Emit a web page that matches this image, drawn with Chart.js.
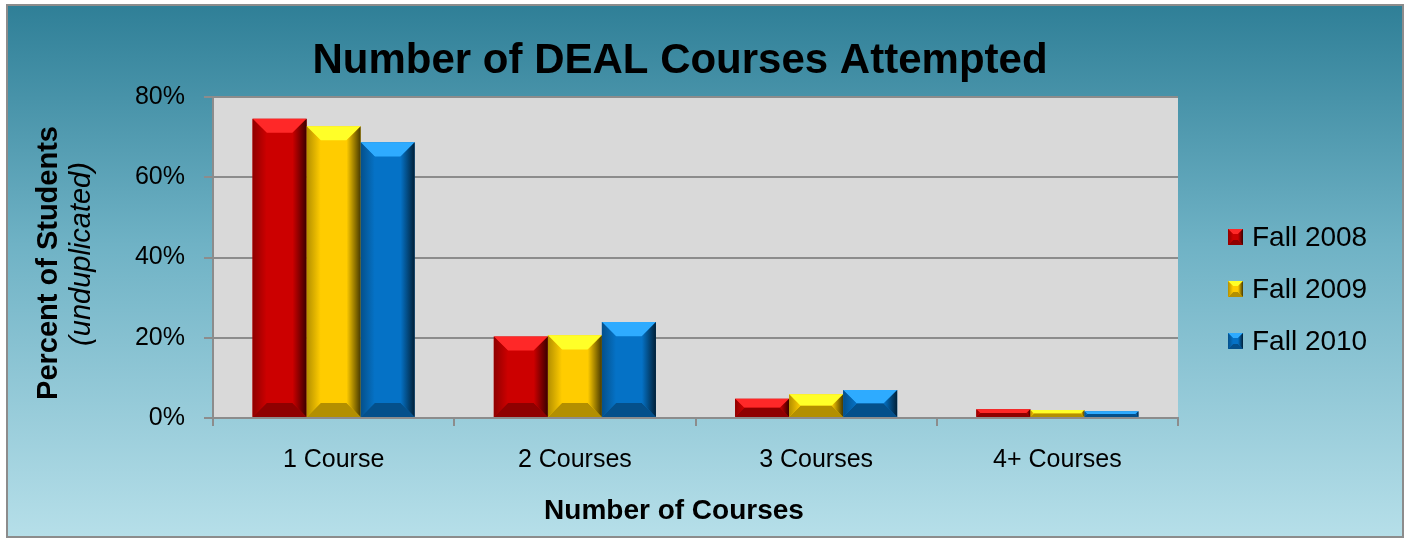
<!DOCTYPE html>
<html>
<head>
<meta charset="utf-8">
<script src="https://cdn.jsdelivr.net/npm/chart.js@4/dist/chart.umd.min.js"></script>
<style>
    html, body { margin: 0; padding: 0; background: #fff; }
    #wrap { width: 1409px; height: 538px; }
</style>
</head>
<body>
<div id="wrap"><canvas id="coursesChart" width="1409" height="538"></canvas></div>
<script>
const categories = ['1 Course', '2 Courses', '3 Courses', '4+ Courses'];
const seriesNames = ['Fall 2008', 'Fall 2009', 'Fall 2010'];
const fall2008 = [74.6, 20.3, 4.8, 2.2];
const fall2009 = [72.7, 20.6, 5.9, 2.0];
const fall2010 = [68.7, 23.9, 7.0, 1.7];
const seriesColors = ['#cc0000', '#ffcc00', '#0572c6'];
const yTicks = [0, 20, 40, 60, 80];

const FONT = "'Liberation Sans', Arial, sans-serif";

// mix a hex colour toward white (amt > 0) or black (amt < 0)
function shade(hex, amt) {
    const n = parseInt(hex.slice(1), 16);
    const ch = [n >> 16, (n >> 8) & 255, n & 255];
    const target = amt < 0 ? 0 : 255;
    const p = Math.abs(amt);
    const out = ch.map(c => Math.round(c + (target - c) * p));
    return `rgb(${out[0]},${out[1]},${out[2]})`;
}

function brighten(hex) {
    const n = parseInt(hex.slice(1), 16);
    const ch = [n >> 16, (n >> 8) & 255, n & 255].map(c => Math.min(255, Math.round(c * 1.15 + 40)));
    return `rgb(${ch[0]},${ch[1]},${ch[2]})`;
}

// draws the Excel-style bevel on top of a plain rectangle
function drawBevel(ctx, l, t, r, b, color, size) {
    const h = b - t;
    const w = r - l;
    if (h <= 0 || w <= 0) return;
    const s = Math.min(size, h / 2, w / 2);

    ctx.save();
    // top face
    ctx.fillStyle = brighten(color);
    ctx.beginPath();
    ctx.moveTo(l, t); ctx.lineTo(r, t); ctx.lineTo(r - s, t + s); ctx.lineTo(l + s, t + s);
    ctx.closePath(); ctx.fill();

    // bottom face
    ctx.fillStyle = shade(color, -0.3);
    ctx.beginPath();
    ctx.moveTo(l, b); ctx.lineTo(r, b); ctx.lineTo(r - s, b - s); ctx.lineTo(l + s, b - s);
    ctx.closePath(); ctx.fill();

    // right face
    let g = ctx.createLinearGradient(r - s, 0, r, 0);
    g.addColorStop(0, color);
    g.addColorStop(1, shade(color, -0.72));
    ctx.fillStyle = g;
    ctx.beginPath();
    ctx.moveTo(r, t); ctx.lineTo(r, b); ctx.lineTo(r - s, b - s); ctx.lineTo(r - s, t + s);
    ctx.closePath(); ctx.fill();

    // left face
    g = ctx.createLinearGradient(l, 0, l + s, 0);
    g.addColorStop(0, shade(color, -0.3));
    g.addColorStop(1, color);
    ctx.fillStyle = g;
    ctx.beginPath();
    ctx.moveTo(l, t); ctx.lineTo(l + s, t + s); ctx.lineTo(l + s, b - s); ctx.lineTo(l, b);
    ctx.closePath(); ctx.fill();
    ctx.restore();
}

const frameAndText = {
    id: 'frameAndText',
    beforeDraw(chart) {
        const ctx = chart.ctx;
        const area = chart.chartArea;
        ctx.save();
        // outer panel with the teal gradient
        const g = ctx.createLinearGradient(0, 5, 0, 537);
        g.addColorStop(0, '#2f7f97');
        g.addColorStop(0.45, '#6fb2c5');
        g.addColorStop(1, '#b6dfe9');
        ctx.fillStyle = g;
        ctx.fillRect(7, 5, 1396, 532);
        ctx.strokeStyle = '#8c8c8c';
        ctx.lineWidth = 2;
        ctx.strokeRect(7, 5, 1396, 532);

        // plot area
        ctx.fillStyle = '#d9d9d9';
        ctx.fillRect(area.left, area.top, area.right - area.left, area.bottom - area.top);
        ctx.restore();
    },
    afterDraw(chart) {
        const ctx = chart.ctx;
        ctx.save();
        ctx.fillStyle = '#000';
        ctx.textAlign = 'center';
        ctx.textBaseline = 'alphabetic';

        ctx.font = `bold 42px ${FONT}`;
        ctx.fillText('Number of DEAL Courses Attempted', 680, 73);

        ctx.font = `bold 28px ${FONT}`;
        ctx.fillText('Number of Courses', 674, 519);

        // y axis title, two lines, rotated
        ctx.save();
        ctx.translate(57, 263);
        ctx.rotate(-Math.PI / 2);
        ctx.font = `bold 29px ${FONT}`;
        ctx.fillText('Percent of Students', 0, 0);
        ctx.restore();
        ctx.save();
        ctx.translate(90, 254);
        ctx.rotate(-Math.PI / 2);
        ctx.font = `italic 29px ${FONT}`;
        ctx.fillText('(unduplicated)', 0, 0);
        ctx.restore();

        // legend
        ctx.textAlign = 'left';
        ctx.textBaseline = 'middle';
        ctx.font = `28px ${FONT}`;
        chart.data.datasets.forEach((ds, i) => {
            const cy = 237 + i * 52;
            ctx.fillStyle = ds.backgroundColor;
            ctx.fillRect(1228, cy - 8, 15, 16);
            drawBevel(ctx, 1228, cy - 8, 1243, cy + 8, ds.backgroundColor, 5);
            ctx.fillStyle = '#000';
            ctx.fillText(ds.label, 1252, cy + 1);
        });
        ctx.restore();
    },
    afterDatasetsDraw(chart) {
        const ctx = chart.ctx;
        chart.data.datasets.forEach((ds, i) => {
            chart.getDatasetMeta(i).data.forEach(bar => {
                const p = bar.getProps(['x', 'y', 'base', 'width'], true);
                const l = p.x - p.width / 2;
                const r = p.x + p.width / 2;
                drawBevel(ctx, l, Math.min(p.y, p.base), r, Math.max(p.y, p.base), ds.backgroundColor, p.width * 0.26);
            });
        });
    }
};

const seriesData = [fall2008, fall2009, fall2010];

new Chart(document.getElementById('coursesChart'), {
    type: 'bar',
    data: {
        labels: categories,
        datasets: seriesNames.map((name, i) => ({
            label: name,
            data: seriesData[i],
            backgroundColor: seriesColors[i],
            borderWidth: 0,
            categoryPercentage: 0.672,
            barPercentage: 1.0
        }))
    },
    options: {
        responsive: false,
        devicePixelRatio: 1,
        animation: false,
        layout: {
            padding: { left: 0, right: 231, top: 97, bottom: 0 }
        },
        scales: {
            x: {
                afterFit: (scale) => { scale.height = 120; },
                grid: {
                    display: true,
                    offset: true,
                    drawOnChartArea: false,
                    drawTicks: true,
                    tickLength: 8,
                    color: '#8c8c8c',
                    lineWidth: 2
                },
                border: { color: '#8c8c8c', width: 2 },
                ticks: {
                    color: '#000',
                    padding: 19,
                    font: { family: FONT, size: 25 }
                }
            },
            y: {
                min: yTicks[0],
                max: yTicks[yTicks.length - 1],
                afterFit: (scale) => { scale.width = 213; },
                afterBuildTicks: (scale) => { scale.ticks = yTicks.map(v => ({ value: v })); },
                grid: {
                    color: '#8c8c8c',
                    lineWidth: 2,
                    tickLength: 9
                },
                border: { color: '#8c8c8c', width: 2 },
                ticks: {
                    color: '#000',
                    padding: 19,
                    font: { family: FONT, size: 25 },
                    callback: (v) => v + '%'
                }
            }
        },
        plugins: {
            legend: { display: false },
            title: { display: false },
            tooltip: { enabled: false }
        }
    },
    plugins: [frameAndText]
});
</script>
</body>
</html>
